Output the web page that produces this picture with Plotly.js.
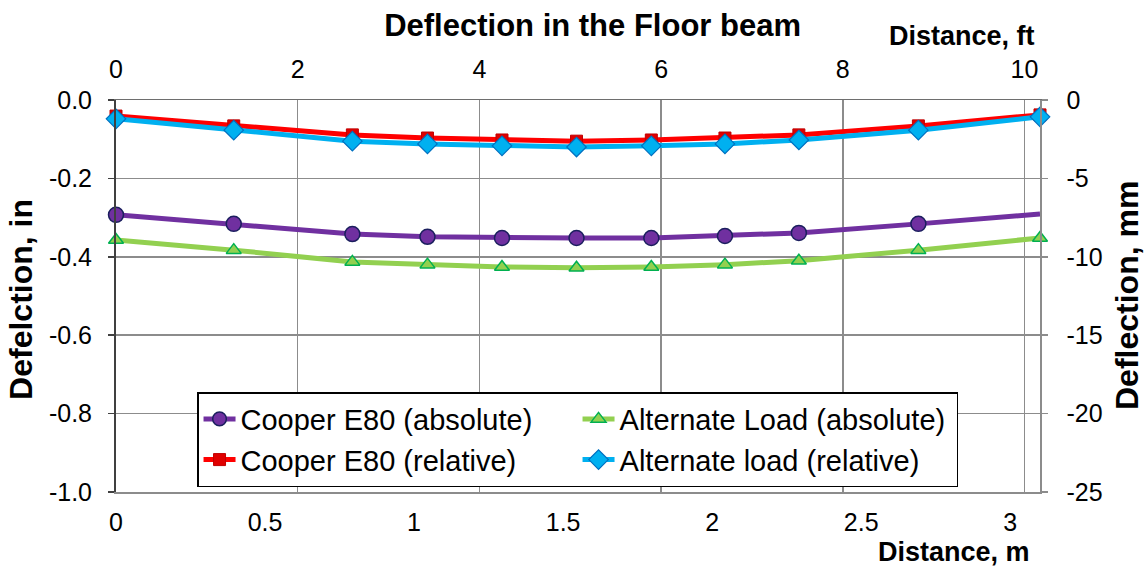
<!DOCTYPE html>
<html>
<head>
<meta charset="utf-8">
<script src="https://cdn.plot.ly/plotly-3.0.1.min.js"></script>
<style>html,body{margin:0;padding:0;background:#fff;}#chart{width:1144px;height:568px;}</style>
</head>
<body>
<div id="chart"></div>
<script>
// Distance along the floor beam, m
const distanceM = [0, 0.395, 0.793, 1.045, 1.295, 1.545, 1.796, 2.043, 2.291, 2.692, 3.1];
// Deflection, in
const cooperAbs = [-0.293, -0.316, -0.342, -0.349, -0.352, -0.352, -0.352, -0.347, -0.339, -0.316, -0.291];
const alternateAbs = [-0.357, -0.383, -0.413, -0.420, -0.426, -0.428, -0.426, -0.420, -0.410, -0.383, -0.352];
const cooperRel = [-0.041, -0.066, -0.089, -0.097, -0.102, -0.105, -0.102, -0.097, -0.089, -0.066, -0.038];
const alternateRel = [-0.048, -0.077, -0.105, -0.112, -0.117, -0.120, -0.117, -0.112, -0.102, -0.077, -0.043];
const seriesNames = ["Cooper E80 (absolute)", "Alternate Load (absolute)", "Cooper E80 (relative)", "Alternate load (relative)"];
const ftTicks = [0, 2, 4, 6, 8, 10];
const mTicks = [0, 0.5, 1, 1.5, 2, 2.5, 3];
const inTicks = [0, -0.2, -0.4, -0.6, -0.8, -1.0];
const mmTicks = [0, -5, -10, -15, -20, -25];

const FONT = "Arial, 'Liberation Sans', sans-serif";
const purpleSizes = distanceM.map((d, i) => i === distanceM.length - 1 ? 0 : 15);

const traces = [
  {x: distanceM, y: cooperAbs, name: seriesNames[0], mode: "lines+markers", cliponaxis: false,
   line: {color: "#7030A0", width: 5},
   marker: {symbol: "circle", size: purpleSizes, opacity: 1, color: "#7030A0", line: {color: "#1B1F5E", width: 1.5}}},
  {x: distanceM, y: alternateAbs, name: seriesNames[1], mode: "lines+markers", cliponaxis: false,
   line: {color: "#92D050", width: 5},
   marker: {symbol: "triangle-up", size: 13, opacity: 1, color: "#92D050", line: {color: "#00B050", width: 1.5}}},
  {x: distanceM, y: cooperRel, name: seriesNames[2], mode: "lines+markers", cliponaxis: false,
   line: {color: "#FF0000", width: 5},
   marker: {symbol: "square", size: 12, opacity: 1, color: "#E00000", line: {color: "#C00000", width: 1}}},
  {x: distanceM, y: alternateRel, name: seriesNames[3], mode: "lines+markers", cliponaxis: false,
   line: {color: "#00B0F0", width: 5},
   marker: {symbol: "diamond", size: 15, opacity: 1, color: "#00B0F0", line: {color: "#0070C0", width: 1.2}}},
  // secondary axes (ft / mm) carrier, draws nothing
  {x: [ftTicks[0]], y: [mmTicks[0]], xaxis: "x2", yaxis: "y2", mode: "none", showlegend: false, hoverinfo: "skip"}
];

const tickFont = {family: FONT, size: 25, color: "#000"};
const layout = {
  width: 1144, height: 568,
  margin: {l: 116, r: 104, t: 100, b: 76},
  paper_bgcolor: "#fff", plot_bgcolor: "#fff",
  showlegend: true,
  title: {text: "<b>Deflection in the Floor beam</b>", font: {family: FONT, size: 31, color: "#000"},
          x: 0.518, xanchor: "center", y: 0.956, yanchor: "middle"},
  xaxis: {range: [0, 3.1], tickvals: mTicks, ticktext: mTicks.map(String), showgrid: false, zeroline: false,
          showline: true, linecolor: "#8c8c8c", linewidth: 1.5, ticks: "", ticklabelstandoff: 7, tickfont: tickFont},
  xaxis2: {range: [0, 3.1 / 0.3048], overlaying: "x", side: "top", anchor: "y", tickvals: ftTicks, ticktext: ftTicks.map(String),
           showgrid: true, gridcolor: "#8c8c8c", gridwidth: 1.5, zeroline: false,
           showline: true, linecolor: "#6e6e6e", linewidth: 1.5, ticks: "", ticklabelstandoff: 11, tickfont: tickFont},
  yaxis: {range: [-1, 0], tickvals: inTicks, ticktext: inTicks.map(v => v.toFixed(1)), showgrid: true, gridcolor: "#8c8c8c", gridwidth: 1.5,
          zeroline: false, showline: true, linecolor: "#404040", linewidth: 2, ticks: "outside", ticklen: 6, tickcolor: "#404040", tickwidth: 1.5,
          ticklabelstandoff: 11, tickfont: tickFont},
  yaxis2: {range: [-25, 0], overlaying: "y", side: "right", anchor: "x", tickvals: mmTicks, ticktext: mmTicks.map(String), showgrid: false,
           zeroline: false, showline: true, linecolor: "#8c8c8c", linewidth: 1.5, ticks: "outside", ticklen: 6, tickcolor: "#8c8c8c", tickwidth: 1.5,
           ticklabelstandoff: 14, tickfont: tickFont},
  legend: {orientation: "h", x: 0.0877, xanchor: "left", y: 0.255, yanchor: "top", bgcolor: "#fff", bordercolor: "#000", borderwidth: 1.5,
           entrywidth: 332, entrywidthmode: "pixels", font: {family: FONT, size: 29, color: "#000"}, traceorder: "normal", itemwidth: 32},
  annotations: [
    {text: "<b>Distance, ft</b>", xref: "paper", yref: "paper", x: (962 - 116) / 924, y: 1 + (100 - 36) / 392, xanchor: "center", yanchor: "middle",
     showarrow: false, font: {family: FONT, size: 27, color: "#000"}},
    {text: "<b>Distance, m</b>", xref: "paper", yref: "paper", x: (954 - 116) / 924, y: -(552 - 492) / 392, xanchor: "center", yanchor: "middle",
     showarrow: false, font: {family: FONT, size: 27, color: "#000"}},
    {text: "<b>Defelction, in</b>", xref: "paper", yref: "paper", x: (21 - 116) / 924, y: 0.49, xanchor: "center", yanchor: "middle", textangle: -90,
     showarrow: false, font: {family: FONT, size: 32, color: "#000"}},
    {text: "<b>Deflection, mm</b>", xref: "paper", yref: "paper", x: (1127 - 116) / 924, y: 0.5, xanchor: "center", yanchor: "middle", textangle: -90,
     showarrow: false, font: {family: FONT, size: 32, color: "#000"}}
  ]
};

Plotly.newPlot("chart", traces, layout, {displayModeBar: false, staticPlot: true});
</script>
</body>
</html>
